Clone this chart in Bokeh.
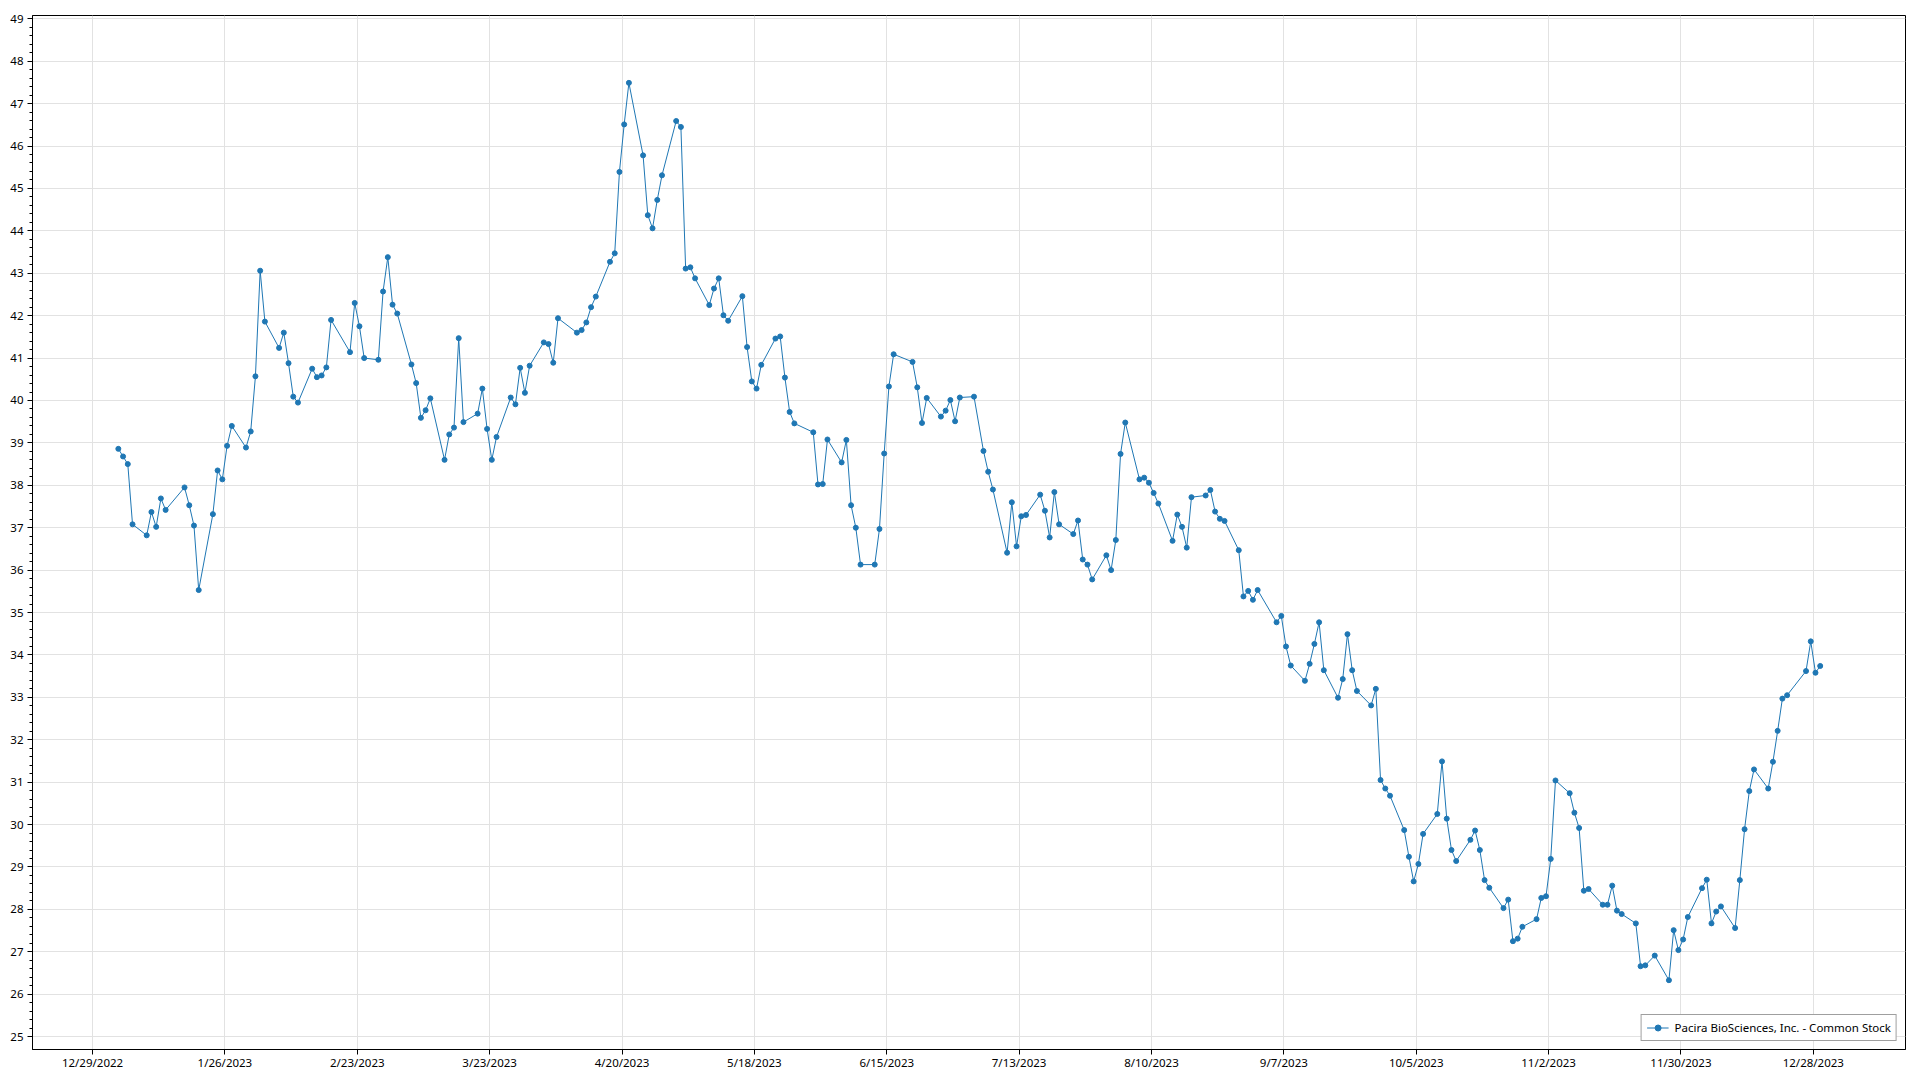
import pandas as pd
from datetime import datetime, timedelta
from bokeh.plotting import figure
from bokeh.models import (ColumnDataSource, Range1d, FixedTicker, CustomJSTickFormatter,
                          Legend, LegendItem)
from bokeh.embed import file_html
from bokeh.resources import INLINE

series_name = "Pacira BioSciences, Inc. - Common Stock"

# NYSE holidays 2023 (non-trading weekdays)
holidays = ["2023-01-02", "2023-01-16", "2023-02-20", "2023-04-07", "2023-05-29",
            "2023-06-19", "2023-07-04", "2023-09-04", "2023-11-23", "2023-12-25"]

# closing prices, one per trading day
jan = [38.86, 38.68, 38.50, 37.08, 36.82, 37.37, 37.02, 37.69, 37.42, 37.95,
       37.53, 37.05, 35.53, 37.32, 38.35, 38.14, 38.93, 39.40, 38.89, 39.27]
feb = [40.57, 43.06, 41.86, 41.24, 41.60, 40.88, 40.09, 39.95, 40.75, 40.55,
       40.59, 40.78, 41.90, 41.14, 42.30, 41.75, 41.00, 40.96, 42.57]
mar = [43.38, 42.26, 42.05, 40.85, 40.41, 39.59, 39.77, 40.05, 38.60, 39.20,
       39.36, 41.47, 39.49, 39.69, 40.28, 39.33, 38.60, 39.14, 40.07, 39.91,
       40.77, 40.18, 40.82]
apr = [41.37, 41.33, 40.89, 41.94, 41.60, 41.66, 41.84, 42.20, 42.45, 43.27,
       43.47, 45.39, 46.51, 47.49, 45.78, 44.37, 44.06, 44.73, 45.31]
may = [46.59, 46.45, 43.11, 43.14, 42.88, 42.25, 42.64, 42.88, 42.01, 41.88,
       42.46, 41.26, 40.45, 40.28, 40.84, 41.46, 41.51, 40.54, 39.73, 39.46,
       39.25, 38.02]
jun = [38.03, 39.08, 38.54, 39.07, 37.53, 37.00, 36.13, 36.13, 36.97, 38.75,
       40.33, 41.09, 40.91, 40.31, 39.47, 40.06, 39.62, 39.76, 40.01, 39.51,
       40.07]
jul = [40.09, 38.81, 38.32, 37.90, 36.41, 37.60, 36.56, 37.27, 37.30, 37.78,
       37.40, 36.77, 37.84, 37.08, 36.85, 37.17, 36.25, 36.13, 35.78, 36.35]
aug = [36.00, 36.71, 38.74, 39.48, 38.14, 38.18, 38.06, 37.82, 37.57, 36.69,
       37.31, 37.02, 36.53, 37.72, 37.76, 37.89, 37.38, 37.21, 37.16, 36.47,
       35.38, 35.51, 35.30]
sep = [35.53, 34.77, 34.92, 34.20, 33.75, 33.39, 33.79, 34.26, 34.77, 33.64,
       32.99, 33.43, 34.49, 33.64, 33.15, 32.81, 33.20, 31.05, 30.85, 30.68]
oct_ = [29.87, 29.24, 28.66, 29.07, 29.78, 30.25, 31.49, 30.14, 29.40, 29.14,
        29.64, 29.86, 29.40, 28.69, 28.51, 28.03, 28.23, 27.25, 27.31, 27.59,
        27.77, 28.27]
nov = [28.31, 29.19, 31.04, 30.74, 30.28, 29.92, 28.44, 28.48, 28.11, 28.11,
       28.56, 27.97, 27.89, 27.67, 26.66, 26.68, 26.91, 26.33, 27.51, 27.04,
       27.29]
dec = [27.82, 28.50, 28.70, 27.67, 27.95, 28.07, 27.56, 28.69, 29.89, 30.79,
       31.30, 30.85, 31.48, 32.21, 32.97, 33.05, 33.62, 34.32, 33.58, 33.74]

prices = jan + feb + mar + apr + may + jun + jul + aug + sep + oct_ + nov + dec

x_tick_dates = ["2022-12-29", "2023-01-26", "2023-02-23", "2023-03-23", "2023-04-20",
                "2023-05-18", "2023-06-15", "2023-07-13", "2023-08-10", "2023-09-07",
                "2023-10-05", "2023-11-02", "2023-11-30", "2023-12-28"]
y_ticks = list(range(25, 50))

dates = pd.bdate_range("2023-01-03", "2023-12-29", freq="C", holidays=holidays)
dates = dates + pd.Timedelta(hours=11)
assert len(dates) == len(prices), (len(dates), len(prices))

src = ColumnDataSource(dict(date=dates, price=prices))

base = datetime(2022, 12, 29)
p = figure(width=1912, height=1072, x_axis_type="datetime",
           x_range=Range1d(base - timedelta(days=12.7), base + timedelta(days=383.5)),
           y_range=Range1d(24.696, 49.078),
           output_backend="svg", toolbar_location=None,
           min_border_left=32, min_border_right=7, min_border_top=15, min_border_bottom=21,
           background_fill_color="white", border_fill_color="white")

p.outline_line_color = "black"
p.outline_line_width = 1

COLOR = "#1f77b4"
line_r = p.line("date", "price", source=src, line_color=COLOR, line_width=1)
pts_r = p.scatter("date", "price", source=src, size=5, fill_color=COLOR, line_color=COLOR)

def to_ms(s):
    return (pd.Timestamp(s) - pd.Timestamp("1970-01-01")) // pd.Timedelta(milliseconds=1)

p.xaxis.ticker = FixedTicker(ticks=[to_ms(d) for d in x_tick_dates])
p.xaxis.formatter = CustomJSTickFormatter(code="""
const d = new Date(tick);
return (d.getUTCMonth()+1) + '/' + d.getUTCDate() + '/' + d.getUTCFullYear();
""")
minor = [t + k * 0.2 for t in y_ticks[:-1] for k in range(1, 5)]
p.yaxis.ticker = FixedTicker(ticks=y_ticks, minor_ticks=minor)

for ax in (p.xaxis[0], p.yaxis[0]):
    ax.axis_line_color = "black"
    ax.axis_line_width = 1
    ax.major_tick_line_color = "black"
    ax.minor_tick_line_color = "black"
    ax.major_tick_out = 5
    ax.major_tick_in = 0
    ax.minor_tick_out = 3
    ax.minor_tick_in = 0
    ax.major_label_text_font = "Noto Sans"
    ax.major_label_text_font_size = "11.5px"
    ax.major_label_text_color = "#000000"
p.xaxis.minor_tick_line_color = None
p.xaxis.major_label_standoff = 0
p.yaxis.major_label_standoff = 4

p.xgrid.grid_line_color = "#e2e2e2"
p.ygrid.grid_line_color = "#e2e2e2"
p.xgrid.grid_line_width = 1
p.ygrid.grid_line_width = 1

legend = Legend(items=[LegendItem(label=series_name, renderers=[line_r, pts_r])],
                location="bottom_right")
legend.border_line_color = "#404040"
legend.border_line_width = 1
legend.background_fill_color = "white"
legend.background_fill_alpha = 1
legend.label_text_font = "Noto Sans"
legend.label_text_font_size = "11.5px"
legend.label_text_color = "#000000"
legend.padding = 5
legend.margin = 8
legend.glyph_width = 22
legend.glyph_height = 15
legend.label_height = 15
legend.label_standoff = 6
p.add_layout(legend)

open("out.html", "w").write(file_html(p, INLINE))
